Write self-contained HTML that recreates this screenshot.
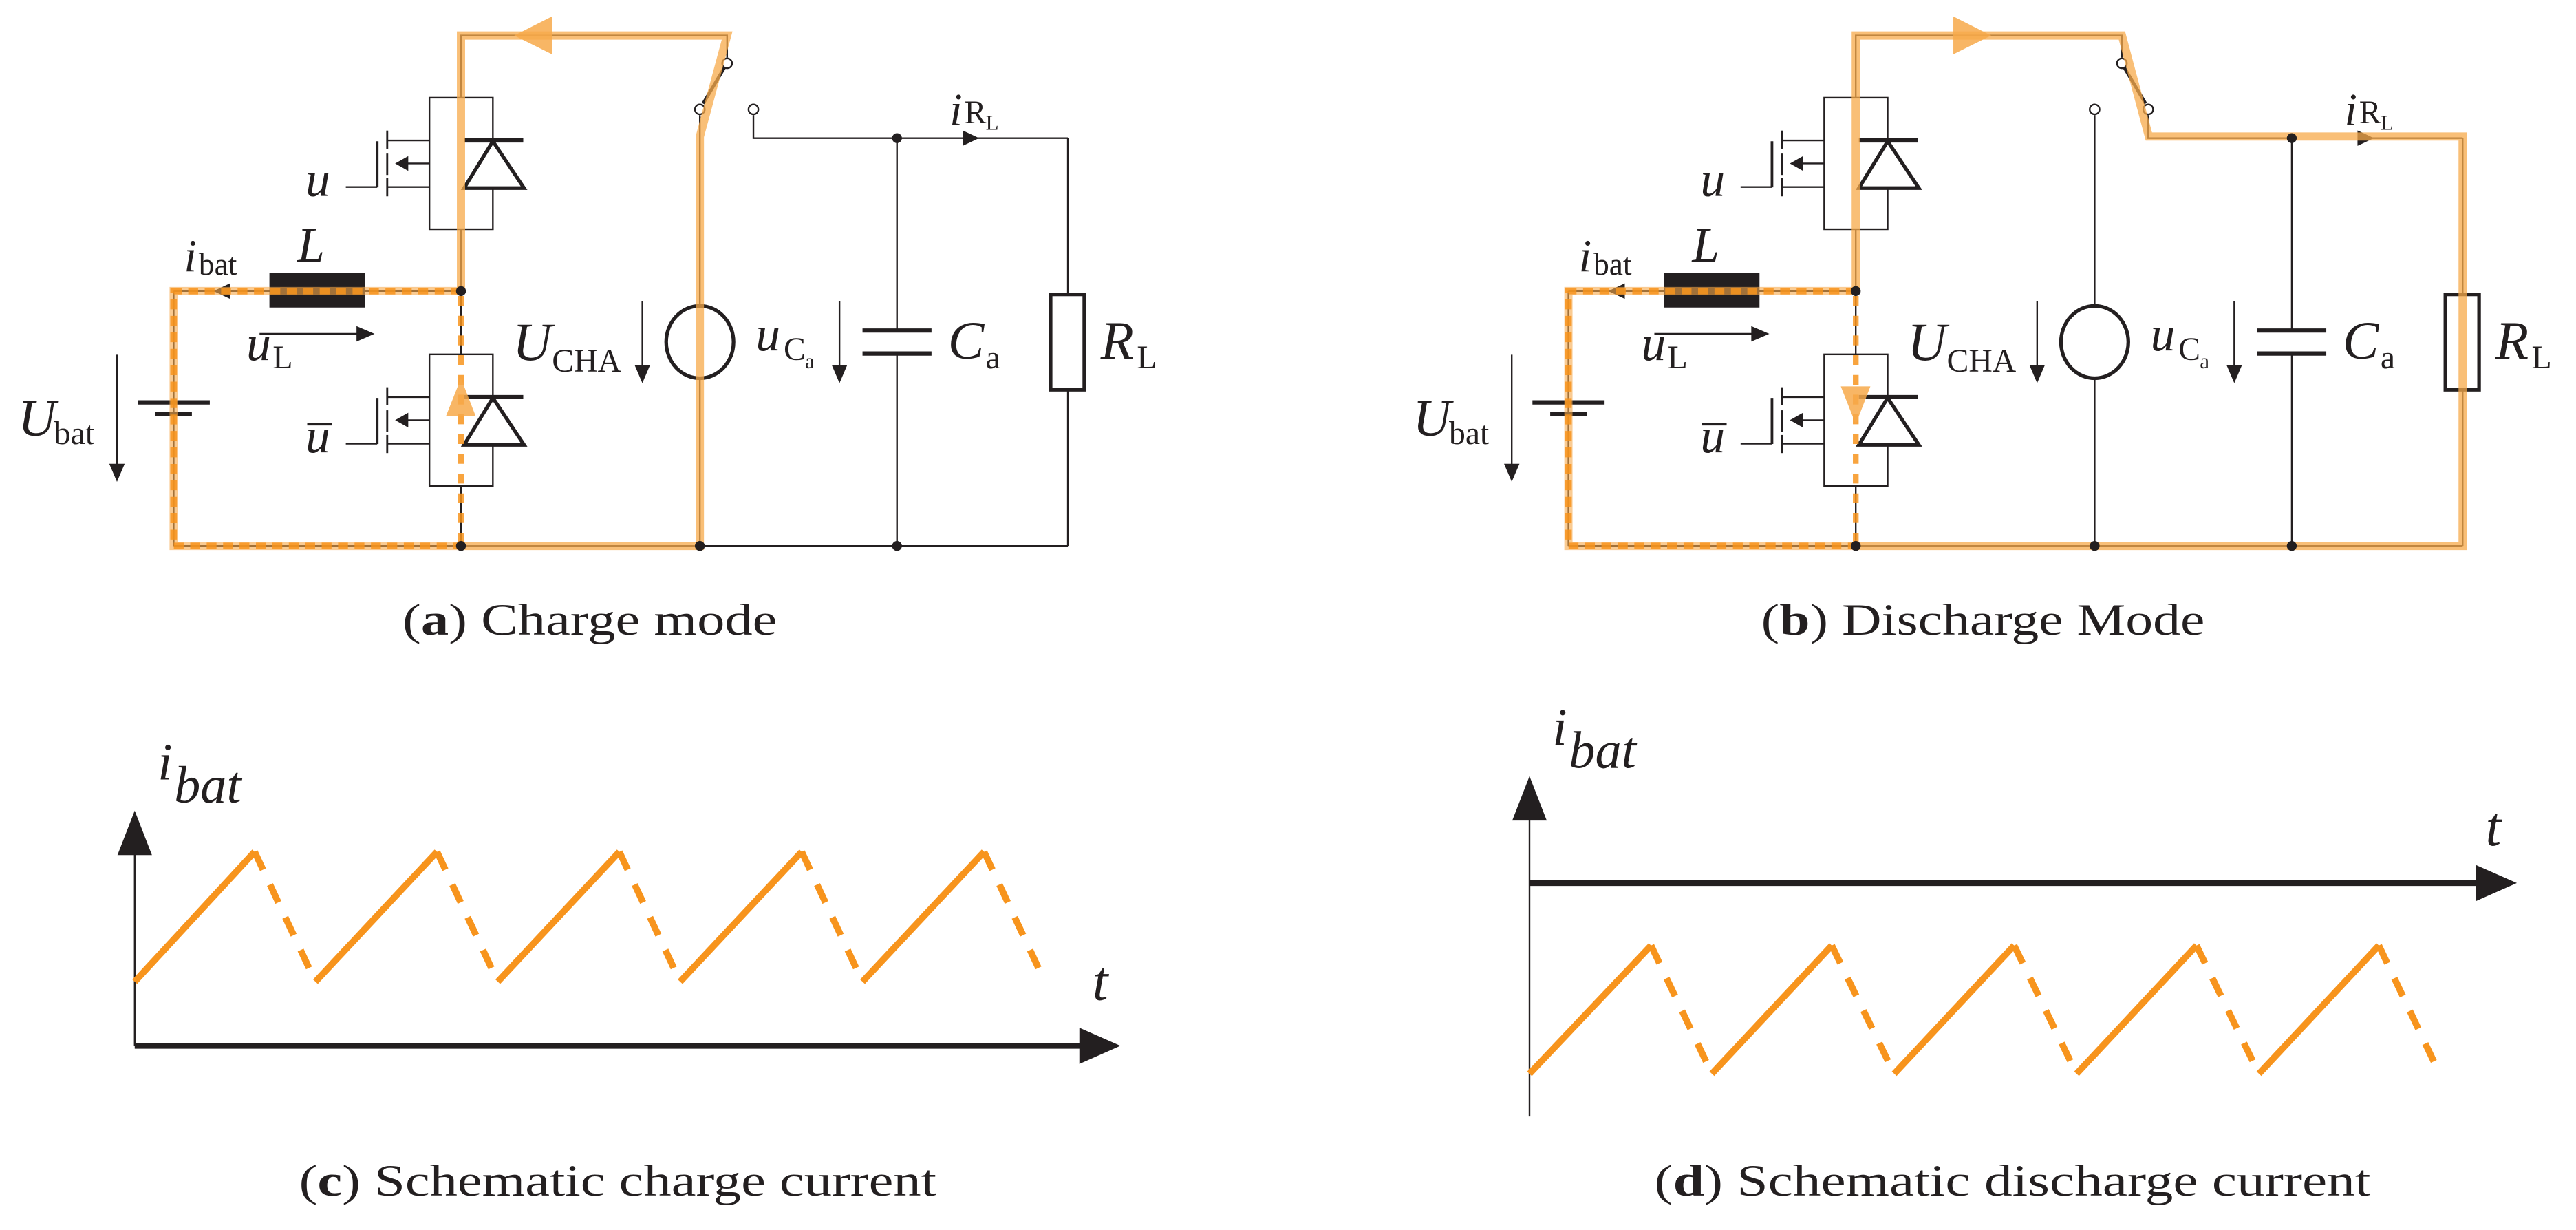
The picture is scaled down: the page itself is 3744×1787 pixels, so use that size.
<!DOCTYPE html>
<html><head><meta charset="utf-8"><style>
html,body{margin:0;padding:0;background:#fff;}
svg{display:block;}
text{font-family:"Liberation Serif",serif;fill:#231f20;}
.it{font-style:italic;}
</style></head><body>
<svg width="3744" height="1787" viewBox="0 0 1568 748" preserveAspectRatio="none" xmlns="http://www.w3.org/2000/svg">
<defs>
<g id="mos" stroke="#231f20" fill="none">
  <rect x="261.4" y="0" width="38.6" height="80" stroke-width="1"/>
  <line x1="282.5" y1="26" x2="318.5" y2="26" stroke-width="2.6"/>
  <polygon points="300,26.5 282.5,55 319,55" stroke-width="2.2" fill="#fff"/>
  <line x1="229.6" y1="26.5" x2="229.6" y2="54.5" stroke-width="1.6"/>
  <line x1="210.5" y1="54.3" x2="229.6" y2="54.3" stroke-width="1"/>
  <line x1="235.7" y1="20" x2="235.7" y2="31" stroke-width="1.2"/>
  <line x1="235.7" y1="34" x2="235.7" y2="47" stroke-width="1.2"/>
  <line x1="235.7" y1="49" x2="235.7" y2="60" stroke-width="1.2"/>
  <line x1="235.7" y1="26" x2="261.4" y2="26" stroke-width="1"/>
  <line x1="235.7" y1="54.3" x2="261.4" y2="54.3" stroke-width="1"/>
  <line x1="247" y1="40" x2="261.4" y2="40" stroke-width="1"/>
  <polygon points="240.5,40 248.5,35.5 248.5,44.5" fill="#231f20" stroke="none"/>
</g>
<g id="common">
  <use href="#mos" x="0" y="59.4"/>
  <use href="#mos" x="0" y="215.5"/>
  <g stroke="#231f20" stroke-width="1" fill="none">
    <polyline points="280.6,139.4 280.6,215.5"/>
    <polyline points="280.6,295.5 280.6,332"/>
    <polyline points="280.6,59.4 280.6,21.6 442.6,21.6 442.6,35"/>
    <line x1="105.7" y1="177" x2="280.6" y2="177"/>
    <line x1="105.7" y1="177" x2="105.7" y2="332"/>
    <line x1="105.7" y1="332" x2="650" y2="332"/>
    <line x1="546" y1="84" x2="546" y2="201"/>
    <line x1="546" y1="215" x2="546" y2="332"/>
    <line x1="650" y1="84" x2="650" y2="179"/>
    <line x1="650" y1="237" x2="650" y2="332"/>
    <line x1="592" y1="84" x2="650" y2="84"/>
  </g>
  <rect x="164" y="166" width="58" height="21" fill="#231f20"/>
  <line x1="83.8" y1="244.7" x2="127.7" y2="244.7" stroke="#231f20" stroke-width="2.6"/>
  <line x1="94.6" y1="251.8" x2="116.8" y2="251.8" stroke="#231f20" stroke-width="2.6"/>
  <line x1="525" y1="201" x2="567" y2="201" stroke="#231f20" stroke-width="2.6"/>
  <line x1="525" y1="215" x2="567" y2="215" stroke="#231f20" stroke-width="2.6"/>
  <rect x="639.5" y="179" width="20.5" height="58" fill="#fff" stroke="#231f20" stroke-width="2.2"/>
  <ellipse cx="426" cy="208" rx="20.5" ry="22" fill="none" stroke="#231f20" stroke-width="2.2"/>
  <g stroke="#231f20" stroke-width="1" fill="#231f20">
    <line x1="71.2" y1="215.7" x2="71.2" y2="283"/>
    <polygon points="71.2,293 66.5,282 75.9,282" stroke="none"/>
    <line x1="158" y1="203" x2="218" y2="203"/>
    <polygon points="228,203 217,198.3 217,207.7" stroke="none"/>
    <line x1="391" y1="183" x2="391" y2="223"/>
    <polygon points="391,233 386.3,222 395.7,222" stroke="none"/>
    <line x1="511" y1="183" x2="511" y2="223"/>
    <polygon points="511,233 506.3,222 515.7,222" stroke="none"/>
    <polygon points="596,84 586,79.3 586,88.7" stroke="none"/>
    <polygon points="130,177 140,172.3 140,181.7" stroke="none"/>
  </g>
  <text x="11" y="265" font-size="32" class="it">U</text><text x="33" y="270" font-size="20">bat</text>
  <text x="186" y="119" font-size="30" class="it">u</text>
  <text x="186" y="275" font-size="30" class="it">u</text>
  <line x1="187" y1="258" x2="202" y2="258" stroke="#231f20" stroke-width="1.5"/>
  <text x="181" y="159" font-size="30" class="it">L</text>
  <text x="112" y="165" font-size="28" class="it">i</text><text x="121" y="167" font-size="19">bat</text>
  <text x="150" y="219" font-size="30" class="it">u</text><text x="166" y="224" font-size="20">L</text>
  <text x="312" y="219" font-size="33" class="it">U</text><text x="336" y="226" font-size="20">CHA</text>
  <text x="460" y="213" font-size="30" class="it">u</text><text x="477" y="219" font-size="20">C</text><text x="490" y="224" font-size="13">a</text>
  <text x="577" y="218" font-size="33" class="it">C</text><text x="600" y="224" font-size="20">a</text>
  <text x="670" y="218" font-size="33" class="it">R</text><text x="692" y="224" font-size="20">L</text>
  <text x="578" y="76" font-size="28" class="it">i</text><text x="587" y="75" font-size="20">R</text><text x="600" y="79" font-size="13">L</text>
</g>
</defs>

<use href="#common"/>
<g stroke="#231f20" stroke-width="1" fill="none">
  <line x1="426" y1="70" x2="426" y2="186"/>
  <line x1="426" y1="230" x2="426" y2="332"/>
  <polyline points="458.6,70 458.6,84 546,84 592,84"/>
  <line x1="441" y1="41" x2="428" y2="63" stroke-width="2"/>
</g>
<g fill="#fff" stroke="#231f20" stroke-width="1">
  <circle cx="442.6" cy="38.5" r="3"/><circle cx="426" cy="66.5" r="3"/><circle cx="458.6" cy="66.5" r="3"/>
</g>
<g fill="none">
  <polyline points="280.6,177 280.6,21.6 442.6,21.6 426,83 426,332 280.6,332" stroke="#f7a94a" stroke-opacity="0.75" stroke-width="5"/>
  <polyline points="280.6,177 105.7,177 105.7,332 280.6,332" stroke="#f7a94a" stroke-opacity="0.6" stroke-width="5"/>
  <polyline points="280.6,177 105.7,177 105.7,332 280.6,332" stroke="#f7941d" stroke-width="4" stroke-dasharray="6 4" stroke-opacity="0.85"/>
  <line x1="280.6" y1="180" x2="280.6" y2="332" stroke="#f7941d" stroke-width="3.5" stroke-dasharray="6 6" stroke-opacity="0.85"/>
</g>
<polygon points="313,21.6 336,10 336,33" fill="#f7a94a" fill-opacity="0.85"/>
<polygon points="280.6,230 271.5,253 289.5,253" fill="#f7a94a" fill-opacity="0.85"/>
<g fill="#231f20"><circle cx="280.6" cy="177" r="3"/><circle cx="280.6" cy="332" r="3"/><circle cx="426" cy="332" r="3"/><circle cx="546" cy="332" r="3"/><circle cx="546" cy="84" r="3"/></g>

<g transform="translate(849,0)">
<use href="#common"/>
<g stroke="#231f20" stroke-width="1" fill="none">
  <line x1="426" y1="70" x2="426" y2="186"/>
  <line x1="426" y1="230" x2="426" y2="332"/>
  <polyline points="458.6,70 458.6,84 546,84"/>
  <line x1="444" y1="41" x2="457" y2="63" stroke-width="2"/>
</g>
<g fill="#fff" stroke="#231f20" stroke-width="1">
  <circle cx="442.6" cy="38.5" r="3"/><circle cx="426" cy="66.5" r="3"/><circle cx="458.6" cy="66.5" r="3"/>
</g>
<g fill="none">
  <polyline points="280.6,177 280.6,21.6 442.6,21.6 459,83 650,83 650,332 280.6,332" stroke="#f7a94a" stroke-opacity="0.75" stroke-width="5"/>
  <polyline points="280.6,177 105.7,177 105.7,332 280.6,332" stroke="#f7a94a" stroke-opacity="0.6" stroke-width="5"/>
  <polyline points="280.6,177 105.7,177 105.7,332 280.6,332" stroke="#f7941d" stroke-width="4" stroke-dasharray="6 4" stroke-opacity="0.85"/>
  <line x1="280.6" y1="180" x2="280.6" y2="332" stroke="#f7941d" stroke-width="3.5" stroke-dasharray="6 6" stroke-opacity="0.85"/>
</g>
<polygon points="363,21.6 340,10 340,33" fill="#f7a94a" fill-opacity="0.85"/>
<polygon points="280.6,258 271.5,235 289.5,235" fill="#f7a94a" fill-opacity="0.85"/>
<g fill="#231f20"><circle cx="280.6" cy="177" r="3"/><circle cx="280.6" cy="332" r="3"/><circle cx="426" cy="332" r="3"/><circle cx="546" cy="332" r="3"/><circle cx="546" cy="84" r="3"/></g>
</g>

<text x="245" y="386" font-size="27" textLength="228" lengthAdjust="spacingAndGlyphs">(<tspan font-weight="bold">a</tspan>) Charge mode</text>
<text x="1072" y="386" font-size="27" textLength="270" lengthAdjust="spacingAndGlyphs">(<tspan font-weight="bold">b</tspan>) Discharge Mode</text>
<text x="182" y="727" font-size="27" textLength="388" lengthAdjust="spacingAndGlyphs">(<tspan font-weight="bold">c</tspan>) Schematic charge current</text>
<text x="1007" y="727" font-size="27" textLength="436" lengthAdjust="spacingAndGlyphs">(<tspan font-weight="bold">d</tspan>) Schematic discharge current</text>

<line x1="82" y1="518" x2="82" y2="636" stroke="#231f20" stroke-width="1"/>
<polygon points="82,493 71.5,520 92.5,520" fill="#231f20"/>
<line x1="82" y1="636" x2="660" y2="636" stroke="#231f20" stroke-width="3.5"/>
<polygon points="682,636 657,625 657,647" fill="#231f20"/>
<text x="96" y="474" font-size="32" class="it">i</text><text x="106" y="488" font-size="32" class="it">bat</text>
<text x="665" y="608" font-size="34" class="it">t</text>
<g stroke="#f7941d" stroke-width="4" fill="none">
  <polyline points="82,597 155,518"/>
  <polyline points="192,597 266,518"/>
  <polyline points="303,597 377,518"/>
  <polyline points="414,597 488,518"/>
  <polyline points="525,597 599,518"/>
</g>
<g stroke="#f7941d" stroke-width="4" fill="none" stroke-dasharray="12 10">
  <line x1="155" y1="518" x2="192" y2="597"/>
  <line x1="266" y1="518" x2="303" y2="597"/>
  <line x1="377" y1="518" x2="414" y2="597"/>
  <line x1="488" y1="518" x2="525" y2="597"/>
  <line x1="599" y1="518" x2="636" y2="597"/>
</g>

<line x1="931" y1="495" x2="931" y2="679" stroke="#231f20" stroke-width="1"/>
<polygon points="931,472 920.5,499 941.5,499" fill="#231f20"/>
<line x1="931" y1="537" x2="1510" y2="537" stroke="#231f20" stroke-width="3.5"/>
<polygon points="1532,537 1507,526 1507,548" fill="#231f20"/>
<text x="945" y="453" font-size="32" class="it">i</text><text x="955" y="467" font-size="32" class="it">bat</text>
<text x="1513" y="514" font-size="34" class="it">t</text>
<g stroke="#f7941d" stroke-width="4" fill="none">
  <polyline points="931,653 1005,575"/>
  <polyline points="1042,653 1115,575"/>
  <polyline points="1153,653 1226,575"/>
  <polyline points="1264,653 1337,575"/>
  <polyline points="1375,653 1448,575"/>
</g>
<g stroke="#f7941d" stroke-width="4" fill="none" stroke-dasharray="12 10">
  <line x1="1005" y1="575" x2="1042" y2="653"/>
  <line x1="1115" y1="575" x2="1153" y2="653"/>
  <line x1="1226" y1="575" x2="1264" y2="653"/>
  <line x1="1337" y1="575" x2="1375" y2="653"/>
  <line x1="1448" y1="575" x2="1485" y2="653"/>
</g>
</svg>
</body></html>
